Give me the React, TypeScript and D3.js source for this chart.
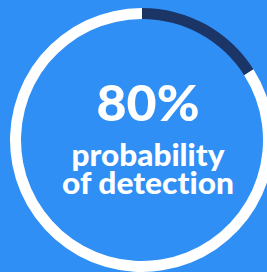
import { useEffect, useRef } from "react";
import * as d3 from "d3";

// ring segments, clockwise from 12 o'clock
const segmentLabels = ["missed", "detected"];
const segmentValues = [16, 84];
const segmentColors = ["#1b3567", "#ffffff"];

const headline = "80%";
const captionLines = ["probability", "of detection"];

const W = 267;
const H = 272;

const App = () => {
  const svgRef = useRef<SVGSVGElement>(null);

  useEffect(() => {
    const svg = d3.select(svgRef.current);
    svg.selectAll("*").remove();

    svg.attr("width", W).attr("height", H);

    svg.append("rect")
      .attr("width", W)
      .attr("height", H)
      .attr("fill", "#2f8ff5");

    const cx = 142;
    const cy = 140;
    const outer = 132;
    const inner = 121;

    const pie = d3.pie<number>().sort(null).value(d => d);
    const arc = d3.arc<d3.PieArcDatum<number>>()
      .innerRadius(inner)
      .outerRadius(outer);

    const g = svg.append("g").attr("transform", `translate(${cx},${cy})`);

    g.selectAll("path")
      .data(pie(segmentValues))
      .enter()
      .append("path")
      .attr("d", arc)
      .attr("fill", (d, i) => segmentColors[i])
      .append("title")
      .text((d, i) => segmentLabels[i]);

    const text = svg.append("g")
      .attr("fill", "#ffffff")
      .attr("font-family", "Lato, sans-serif")
      .attr("font-weight", 900)
      .attr("text-anchor", "middle")
      .style("font-variant-ligatures", "none");

    text.append("text")
      .attr("x", 148)
      .attr("y", 121)
      .attr("font-size", 50)
      .attr("textLength", 103)
      .attr("lengthAdjust", "spacingAndGlyphs")
      .text(headline);

    // caption as one text block with two lines (tight leading)
    const widths = [153, 172];
    const caption = text.append("text")
      .attr("font-size", 31);
    captionLines.forEach((line, i) => {
      caption.append("tspan")
        .attr("x", 148)
        .attr("y", 166 + i * 28)
        .attr("textLength", widths[i])
        .attr("lengthAdjust", "spacingAndGlyphs")
        .text(line);
    });
  }, []);

  return (
    <div style={{ position: "absolute", left: 0, top: 0 }}>
      <svg ref={svgRef} style={{ display: "block" }}></svg>
    </div>
  );
};

export default App;
